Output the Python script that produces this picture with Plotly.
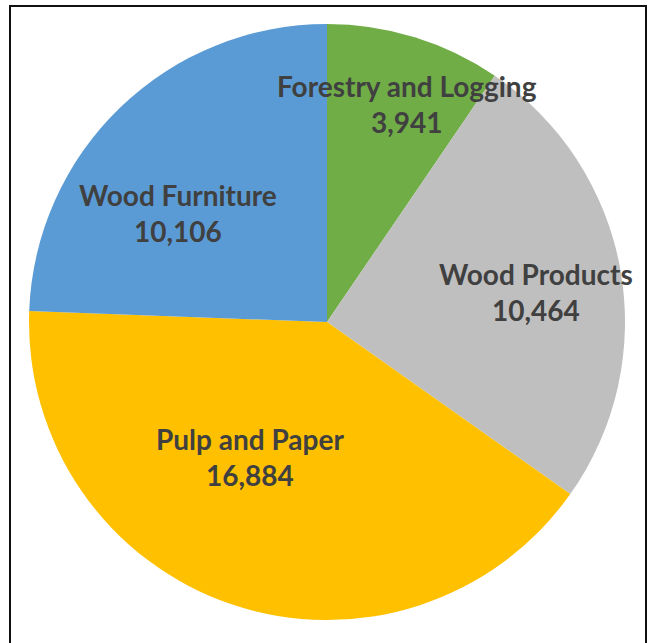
import math
import plotly.graph_objects as go

labels = ["Forestry and Logging", "Wood Products", "Pulp and Paper", "Wood Furniture"]
values = [3941, 10464, 16884, 10106]
colors = ["#70AD47", "#BFBFBF", "#FFC000", "#5B9BD5"]

W, H = 649, 643
cx, cy, R = 327, 322, 298

fig = go.Figure(go.Pie(
    labels=labels, values=values, sort=False, direction="clockwise", rotation=0,
    marker=dict(colors=colors, line=dict(width=0)),
    textinfo="none", hoverinfo="label+value", showlegend=False,
    domain=dict(x=[(cx - R) / W, (cx + R) / W], y=[1 - (cy + R) / H, 1 - (cy - R) / H]),
))

# label placement: slice mid-angle (from data) plus small nudges, radial fraction
angle_nudge = [3, 2, 11, -10]
radial = [0.78, 0.71, 0.52, 0.62]
total = sum(values)
start = 0.0
annotations = []
for lab, v, dn, rf in zip(labels, values, angle_nudge, radial):
    span = 360.0 * v / total
    mid = math.radians(start + span / 2 + dn)
    start += span
    px = cx + rf * R * math.sin(mid)
    py = cy - rf * R * math.cos(mid)
    annotations.append(dict(
        x=px / W, y=1 - py / H, xref="paper", yref="paper",
        text=f"<b>{lab}<br>{v:,}</b>", showarrow=False,
        font=dict(family="Lato", size=28, color="#404040"),
        xanchor="center", yanchor="middle", align="center",
    ))

fig.update_layout(
    width=W, height=H, margin=dict(l=0, r=0, t=0, b=0),
    paper_bgcolor="white", plot_bgcolor="white",
    annotations=annotations,
    shapes=[dict(type="rect", xref="paper", yref="paper",
                 x0=10 / W, x1=646 / W, y0=-0.02, y1=1 - 6 / H,
                 line=dict(color="#111111", width=2))],
)
fig.write_html("out.html")
